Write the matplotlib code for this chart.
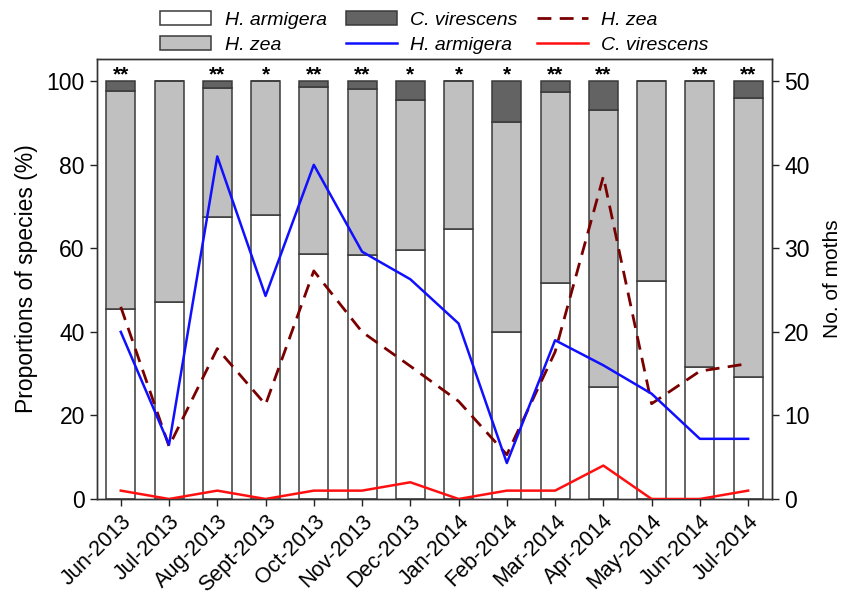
import matplotlib
matplotlib.use("Agg")
import matplotlib.pyplot as plt
import numpy as np
from matplotlib.patches import Patch
from matplotlib.lines import Line2D

plt.rcParams['font.family'] = ['Liberation Sans', 'DejaVu Sans']

months = ["Jun-2013", "Jul-2013", "Aug-2013", "Sept-2013", "Oct-2013", "Nov-2013",
          "Dec-2013", "Jan-2014", "Feb-2014", "Mar-2014", "Apr-2014", "May-2014",
          "Jun-2014", "Jul-2014"]

# proportions (%)
pct_armigera = [45.4, 47.2, 67.4, 67.9, 58.7, 58.5, 59.7, 64.7, 40.0, 51.6, 26.9, 52.3, 31.7, 29.2]
pct_zea      = [52.3, 52.8, 31.1, 32.1, 40.0, 39.7, 35.7, 35.3, 50.2, 45.8, 66.1, 47.7, 68.3, 66.8]
pct_virescens= [2.3, 0.0, 1.5, 0.0, 1.3, 1.8, 4.6, 0.0, 9.8, 2.6, 7.0, 0.0, 0.0, 4.0]

# numbers of moths (right axis)
n_armigera  = [20, 6.5, 41, 24.3, 40, 29.6, 26.3, 21, 4.3, 19, 16, 12.6, 7.2, 7.2]
n_zea       = [23, 6.3, 18, 11.3, 27.3, 20, 15.9, 11.7, 5.3, 17.6, 38.6, 11.4, 15.3, 16.2]
n_virescens = [1, 0, 1, 0, 1, 1, 2, 0, 1, 1, 4, 0, 0, 1]

signif = ["**", "", "**", "*", "**", "**", "*", "*", "*", "**", "**", "", "**", "**"]

fig = plt.figure(figsize=(8.59, 6.03), dpi=100)
ax = fig.add_axes([0.1125, 0.1725, 0.7865, 0.7295])
x = np.arange(len(months))
w = 0.6
ec = "#3a3a3a"
a = np.array(pct_armigera); z = np.array(pct_zea); v = np.array(pct_virescens)
ax.bar(x, a, w, color="white", edgecolor=ec, linewidth=1.1, zorder=2)
ax.bar(x, z, w, bottom=a, color="#c0c0c0", edgecolor=ec, linewidth=1.1, zorder=2)
ax.bar(x, v, w, bottom=a + z, color="#636363", edgecolor=ec, linewidth=1.1, zorder=2)

for xi, s in zip(x, signif):
    if s:
        ax.text(xi, 100.3, s, ha="center", va="baseline", fontsize=15, fontweight="bold", zorder=5)

ax.set_xlim(-0.5, len(months) - 0.5)
ax.set_ylim(0, 105.3)
ax.set_yticks([0, 20, 40, 60, 80, 100])
ax.set_xticks(x)
ax.set_xticklabels(months, rotation=45, ha="right", rotation_mode="anchor", fontsize=15.5)
ax.tick_params(axis="y", labelsize=16.5, direction="out", length=5, width=1, colors="#222222", labelcolor="black")
ax.tick_params(axis="x", direction="out", length=5, width=1, colors="#222222", labelcolor="black")
ax.set_ylabel("Proportions of species (%)", fontsize=16.5, labelpad=6)

ax2 = ax.twinx()
ax2.set_ylim(0, 52.65)
ax2.set_yticks([0, 10, 20, 30, 40, 50])
ax2.tick_params(axis="y", labelsize=16.5, direction="out", length=5, width=1, colors="#222222", labelcolor="black")
ax2.set_ylabel("No. of moths", fontsize=15, labelpad=10)
ax2.plot(x, n_zea, color="#7a0000", lw=2, dashes=(5, 3), zorder=4)
ax2.plot(x, n_armigera, color="#1010ff", lw=1.8, zorder=4)
ax2.plot(x, n_virescens, color="#ff1010", lw=1.8, zorder=4)

for s in list(ax.spines.values()) + list(ax2.spines.values()):
    s.set_color("#333333")
    s.set_linewidth(1)

handles = [
    Patch(facecolor="white", edgecolor=ec, linewidth=1.1),
    Patch(facecolor="#c0c0c0", edgecolor=ec, linewidth=1.1),
    Patch(facecolor="#636363", edgecolor=ec, linewidth=1.1),
    Line2D([], [], color="#1010ff", lw=1.8),
    Line2D([], [], color="#7a0000", lw=2, dashes=(5, 3)),
    Line2D([], [], color="#ff1010", lw=1.8),
]
labels = ["H. armigera", "H. zea", "C. virescens", "H. armigera", "H. zea", "C. virescens"]
leg = ax.legend(handles, labels, ncol=3, loc="lower center", bbox_to_anchor=(0.5, 0.985),
                frameon=False, prop={"size": 14, "style": "italic"}, handlelength=2.6,
                handletextpad=0.7, columnspacing=1.0, labelspacing=0.38, borderaxespad=0.2)

fig.savefig("out.png", dpi=100)
